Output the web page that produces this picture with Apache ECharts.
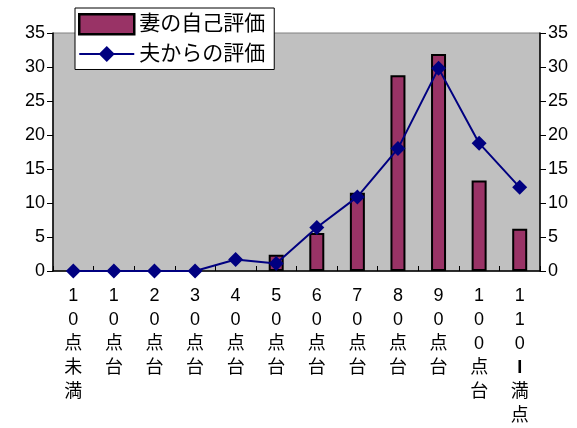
<!DOCTYPE html>
<html><head><meta charset="utf-8">
<script src="https://cdn.jsdelivr.net/npm/echarts@6/dist/echarts.min.js"></script>
<style>html,body{margin:0;padding:0;background:#fff}#c{width:577px;height:428px}</style>
</head><body><div id="c"></div>
<script>
const categories = ['10点未満','10点台','20点台','30点台','40点台','50点台','60点台','70点台','80点台','90点台','100点台','110ー満点'];
const categoryLabels = ['1\n0\n点\n未\n満','1\n0\n点\n台','2\n0\n点\n台','3\n0\n点\n台','4\n0\n点\n台','5\n0\n点\n台','6\n0\n点\n台','7\n0\n点\n台','8\n0\n点\n台','9\n0\n点\n台','1\n0\n0\n点\n台','1\n1\n0\n{b|I}\n満\n点'];
const wifeSelf = [0, 0, 0, 0, 0, 2.4, 5.6, 11.5, 28.8, 31.9, 13.3, 6.2];
const fromHusband = [0, 0, 0, 0, 1.7, 1.1, 6.4, 10.9, 18.0, 29.8, 18.8, 12.3];
const yTicks = {min: 0, max: 35, interval: 5};

const FONT = 'Liberation Sans, Arial, Noto Sans CJK JP, sans-serif';
const chart = echarts.init(document.getElementById('c'));
const yAxisCommon = {
  type: 'value', min: yTicks.min, max: yTicks.max, interval: yTicks.interval,
  splitLine: {show: false},
  axisLine: {show: true, lineStyle: {color: '#000', width: 1.5}},
  axisTick: {show: true, inside: false, length: 6, lineStyle: {color: '#000'}},
  axisLabel: {color: '#000', fontSize: 18, fontFamily: FONT, margin: 8}
};
chart.setOption({
  animation: false,
  textStyle: {fontFamily: FONT},
  grid: {left: 53, right: 37, top: 33, bottom: 157, show: true, backgroundColor: '#c0c0c0', borderColor: '#808080', borderWidth: 1},
  legend: {
    left: 75, top: 8, orient: 'vertical', itemGap: 8,
    itemWidth: 55, itemHeight: 20,
    backgroundColor: '#fff', borderColor: '#000', borderWidth: 1,
    padding: [5, 9, 5, 3],
    textStyle: {fontSize: 21, color: '#000', fontFamily: FONT},
    data: [{name: '妻の自己評価', icon: 'rect', itemStyle: {borderWidth: 2.5}}, {name: '夫からの評価'}]
  },
  xAxis: {
    type: 'category', data: categories,
    axisLine: {lineStyle: {color: '#000', width: 1.5}},
    axisTick: {show: true, inside: true, length: 5, lineStyle: {color: '#000'}},
    axisLabel: {
      interval: 0, color: '#000', fontSize: 18, lineHeight: 24, margin: 13, fontFamily: FONT,
      formatter: (v, i) => categoryLabels[i],
      rich: {b: {fontSize: 18, lineHeight: 24, fontWeight: 'bold', color: '#000', fontFamily: FONT}}
    }
  },
  yAxis: [
    Object.assign({}, yAxisCommon, {position: 'left'}),
    Object.assign({}, yAxisCommon, {position: 'right'})
  ],
  series: [
    {
      name: '妻の自己評価', type: 'bar', data: wifeSelf.map(v => v === 0 ? null : v), barWidth: 15,
      itemStyle: {color: '#993366', borderColor: '#000', borderWidth: 2}
    },
    {
      name: '夫からの評価', type: 'line', data: fromHusband,
      symbol: 'diamond', symbolSize: 15, z: 5,
      lineStyle: {color: '#000080', width: 2},
      itemStyle: {color: '#000080'}
    }
  ]
});
</script></body></html>
